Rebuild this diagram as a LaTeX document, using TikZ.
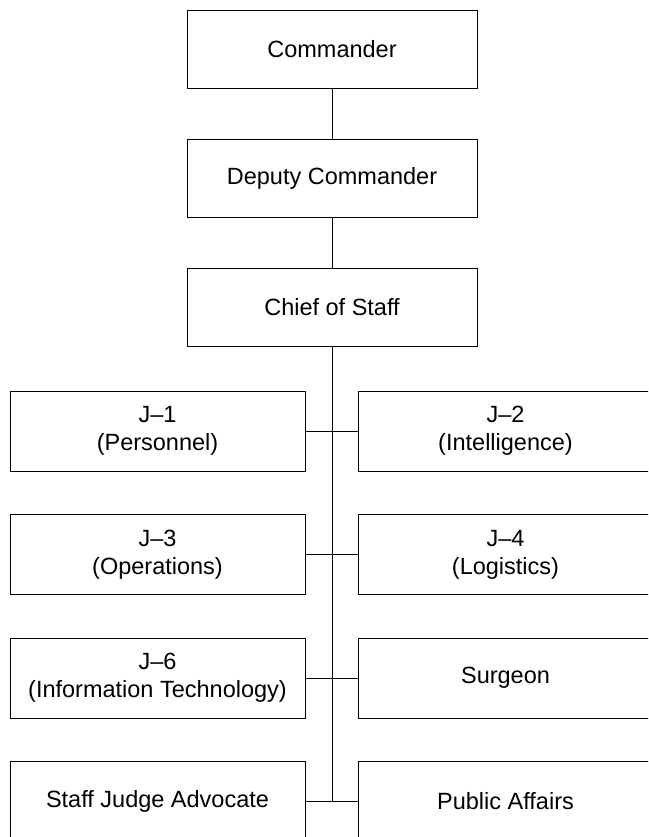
\documentclass[tikz,border=0pt]{standalone}
\usepackage{fontspec}
\setsansfont{Liberation Sans}
\usepackage{tikz}
\usetikzlibrary{positioning}

\begin{document}
\begin{tikzpicture}[line width=1pt, x=1pt, y=1pt,
    font=\sffamily\fontsize{23.5}{28}\selectfont,
    top/.style={rectangle, draw, minimum width=290pt, minimum height=78pt},
    staff/.style={rectangle, draw, align=center, minimum width=295pt,
        minimum height=80pt}]
        \useasboundingbox (0,0) rectangle (648,-837);
        \clip (0,0) rectangle (648,-837);

        \node [top] (cmdr) at (332,-49.5) {Commander};
        \node [top, below=50pt of cmdr] (dep) {Deputy Commander};
        \node [top, below=50pt of dep] (cos) {Chief of Staff};

        \node [staff] (j1) at (157.5,-431) {J--1\\(Personnel)};
        \node [staff, right=52pt of j1] (j2) {J--2\\(Intelligence)};
        \node [staff, below=42.5pt of j1] (j3) {J--3\\(Operations)};
        \node [staff, right=52pt of j3] (j4) {J--4\\(Logistics)};
        \node [staff, below=42.5pt of j3] (j6) {J--6\\(Information Technology)};
        \node [staff, right=52pt of j6] (surg) {Surgeon};
        \node [staff, below=42.5pt of j6] (sja) {Staff Judge Advocate};
        \node [staff, right=52pt of sja] (pa) {Public Affairs};

        \draw (cmdr) -- (dep);
        \draw (dep) -- (cos);
        \draw (cos.south) -- (cos.south |- sja.east);

        \draw (j1.east) -- (j2.west);
        \draw (j3.east) -- (j4.west);
        \draw (j6.east) -- (surg.west);
        \draw (sja.east) -- (pa.west);
    \end{tikzpicture}
\end{document}
